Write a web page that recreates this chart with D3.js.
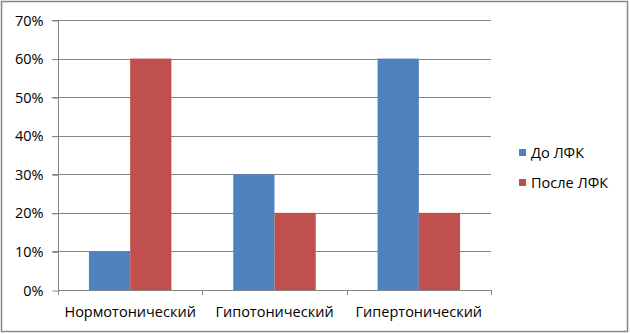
<!DOCTYPE html>
<html><head><meta charset="utf-8">
<script src="https://cdn.jsdelivr.net/npm/d3@7"></script>
<style>body{margin:0;background:#fff}svg{display:block}</style>
</head><body>
<svg id="c" width="630" height="334"></svg>
<script>
const categories = ["Нормотонический", "Гипотонический", "Гипертонический"];
const seriesNames = ["До ЛФК", "После ЛФК"];
const before = [10, 30, 60];
const after = [60, 20, 20];
const yTicks = [0, 10, 20, 30, 40, 50, 60, 70];
const colors = ["#4F81BD", "#C0504D"];

const svg = d3.select("#c");
const font = "'Open Sans', 'Liberation Sans', sans-serif";
const fs = 14.5;
svg.append("rect").attr("x", 1.5).attr("y", 1.5).attr("width", 626).attr("height", 330)
  .attr("fill", "#fff").attr("stroke", "#888").attr("stroke-width", 1.5);

const L = 58, R = 491, T = 20, B = 290;
const x = d3.scaleBand().domain(categories).range([L, R]).paddingInner(0).paddingOuter(0);
const y = d3.scaleLinear().domain([0, 70]).range([B, T]);
const data = categories.map((c, i) => ({c, v: [before[i], after[i]]}));
const barW = x.bandwidth() / 3.5;
const off = (x.bandwidth() - 2 * barW) / 2;

// gridlines
svg.append("g").selectAll("line").data(yTicks.filter(d => d > 0)).join("line")
  .attr("x1", L - 6).attr("x2", R).attr("y1", d => Math.round(y(d)) + 0.5).attr("y2", d => Math.round(y(d)) + 0.5)
  .attr("stroke", "#868686").attr("stroke-width", 1);

// bars
const g = svg.append("g");
data.forEach(d => {
  d.v.forEach((v, j) => {
    g.append("rect").attr("x", x(d.c) + off + j * barW).attr("width", barW)
      .attr("y", y(v)).attr("height", B - y(v)).attr("fill", colors[j]);
  });
});

// axes
const ya = d3.axisLeft(y).tickValues(yTicks).tickFormat(d => d + "%").tickSize(6).tickPadding(9);
const yg = svg.append("g").attr("transform", `translate(${L + 0.5},0.5)`).call(ya);
yg.select(".domain").attr("stroke", "#868686").attr("d", `M0,${T}V${B}`);
yg.selectAll(".tick line").attr("stroke", "#868686");
yg.selectAll(".tick text").attr("font-family", font).attr("font-size", fs).attr("fill", "#000");

const xBounds = [L, ...categories.map(c => x(c) + x.bandwidth())];
const xg = svg.append("g");
xg.append("line").attr("x1", L).attr("x2", R).attr("y1", B + 0.5).attr("y2", B + 0.5).attr("stroke", "#868686");
xg.selectAll("line.t").data(xBounds).join("line").attr("class", "t")
  .attr("x1", d => Math.round(d) + 0.5).attr("x2", d => Math.round(d) + 0.5)
  .attr("y1", B).attr("y2", B + 5).attr("stroke", "#868686");
xg.selectAll("text").data(categories).join("text")
  .attr("x", d => x(d) + x.bandwidth() / 2).attr("y", 317)
  .attr("text-anchor", "middle").attr("font-family", font).attr("font-size", fs).attr("fill", "#000")
  .text(d => d);

// legend
const lg = svg.append("g");
seriesNames.forEach((s, i) => {
  const yy = 149 + i * 30;
  lg.append("rect").attr("x", 519).attr("y", yy).attr("width", 7).attr("height", 7).attr("fill", colors[i]);
  lg.append("text").attr("x", 531).attr("y", yy + 9).attr("font-family", font).attr("font-size", fs)
    .attr("fill", "#000").text(s);
});
</script>
</body></html>
